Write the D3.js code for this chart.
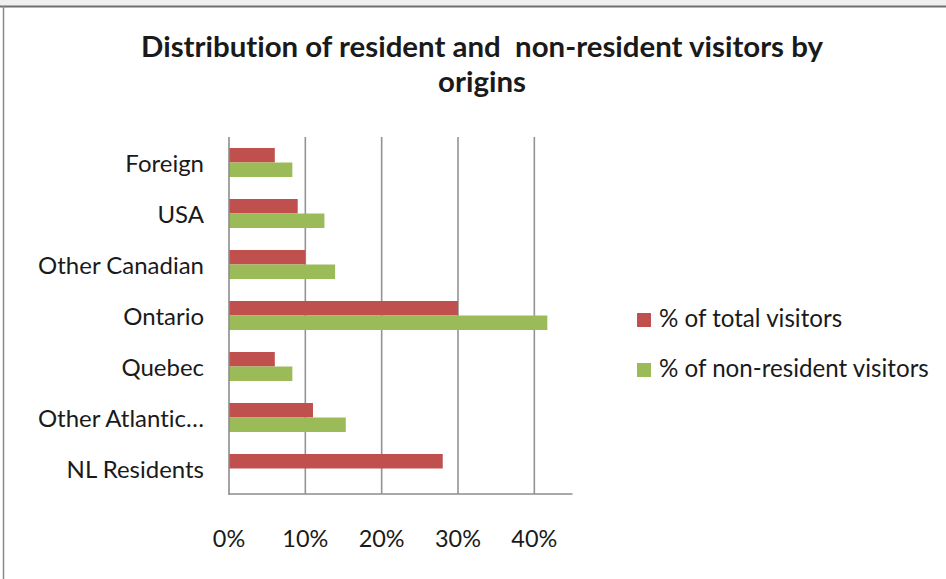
<!DOCTYPE html>
<html>
<head>
<meta charset="utf-8">
<script src="https://cdn.jsdelivr.net/npm/d3@7"></script>
<style>
  html, body { margin: 0; padding: 0; background: #ffffff; }
  svg { display: block; }
  text { font-family: "Lato", "Open Sans", sans-serif; fill: #1a1a1a; font-variant-ligatures: none; font-feature-settings: "liga" 0; }
</style>
</head>
<body>
<svg id="chart" width="946" height="579"></svg>
<script>
// Visitor origins (top to bottom as drawn)
const categories = ["Foreign", "USA", "Other Canadian", "Ontario", "Quebec", "Other Atlantic\u2026", "NL Residents"];
// Share of all visitors, percent
const totalVisitors = [6, 9, 10, 30, 6, 11, 28];
// Share of non-resident visitors, percent (residents excluded)
const nonResidentVisitors = [8.3, 12.5, 13.9, 41.7, 8.3, 15.3, 0];
const seriesNames = ["% of total visitors", "% of non-resident visitors"];
const seriesColors = ["#C0504D", "#9BBB59"];
const tickValues = [0, 10, 20, 30, 40];
const titleLines = ["Distribution of resident and  non-resident visitors by", "origins"];

const svg = d3.select("#chart");
const W = 946, H = 579;

// window frame
svg.append("rect").attr("x", 0).attr("y", 0).attr("width", W).attr("height", 6).attr("fill", "#eef0f0");
svg.append("line").attr("x1", 0).attr("x2", W).attr("y1", 6.5).attr("y2", 6.5)
  .attr("stroke", "#6f6f6f").attr("stroke-width", 2);
svg.append("line").attr("x1", 3.5).attr("x2", 3.5).attr("y1", 6).attr("y2", H)
  .attr("stroke", "#8a8a8a").attr("stroke-width", 1.5);

// scale a text element's font so its rendered width hits a target
function fitSize(sel, target) {
  sel.style("font-size", "100px");
  const w = sel.node().getComputedTextLength();
  return 100 * target / w;
}

const plot = { left: 229, right: 572.5, top: 137, bottom: 494 };

const x = d3.scaleLinear().domain([0, 45]).range([plot.left, plot.right]);
const y = d3.scaleBand().domain(categories).range([plot.top, plot.bottom])
  .paddingInner(0.431).paddingOuter(0.2155);
const ySub = d3.scaleBand().domain([0, 1]).range([0, y.bandwidth()]);

// gridlines
svg.append("g").selectAll("line").data(tickValues.filter(d => d > 0)).join("line")
  .attr("x1", d => x(d)).attr("x2", d => x(d))
  .attr("y1", plot.top).attr("y2", plot.bottom)
  .attr("stroke", "#939393").attr("stroke-width", 1.6);

// bars
const rows = categories.map((c, i) => ({ c, vals: [totalVisitors[i], nonResidentVisitors[i]] }));
const groups = svg.append("g").selectAll("g").data(rows).join("g")
  .attr("transform", d => `translate(0,${y(d.c)})`);
groups.selectAll("rect").data(d => d.vals.map((v, k) => ({ v, k }))).join("rect")
  .attr("x", x(0))
  .attr("y", d => ySub(d.k))
  .attr("width", d => x(d.v) - x(0))
  .attr("height", ySub.bandwidth())
  .attr("fill", d => seriesColors[d.k]);

// axis lines
svg.append("line").attr("x1", plot.left).attr("x2", plot.left).attr("y1", plot.top).attr("y2", plot.bottom + 1)
  .attr("stroke", "#8c8c8c").attr("stroke-width", 1.6);
svg.append("line").attr("x1", plot.left).attr("x2", plot.right).attr("y1", plot.bottom).attr("y2", plot.bottom)
  .attr("stroke", "#8c8c8c").attr("stroke-width", 1.6);

// category labels
const catG = svg.append("g");
const probe = catG.append("text").text("Other Canadian");
const catSize = fitSize(probe, 166);
probe.remove();
catG.selectAll("text").data(categories).join("text")
  .attr("x", 204)
  .attr("y", d => y(d) + y.bandwidth() / 2 + 9)
  .attr("text-anchor", "end")
  .style("font-size", catSize + "px")
  .text(d => d);

// x tick labels
const tickG = svg.append("g");
const tprobe = tickG.append("text").text("10%");
const tickSize = fitSize(tprobe, 46);
tprobe.remove();
tickG.selectAll("text").data(tickValues).join("text")
  .attr("x", d => x(d))
  .attr("y", 547)
  .attr("text-anchor", "middle")
  .style("font-size", tickSize + "px")
  .text(d => d3.format(".0%")(d / 100));

// title
const titleG = svg.append("g");
const ttl = titleG.append("text").text(titleLines[0]).style("font-weight", "bold");
const titleSize = fitSize(ttl, 675);
ttl.remove();
titleG.selectAll("text").data(titleLines).join("text")
  .attr("x", 482)
  .attr("y", (d, i) => 57 + i * 35)
  .attr("text-anchor", "middle")
  .style("font-weight", "bold")
  .style("font-size", titleSize + "px")
  .style("white-space", "pre")
  .attr("xml:space", "preserve")
  .text(d => d);

// legend
const legG = svg.append("g");
const lprobe = legG.append("text").text(seriesNames[1]);
const legSize = fitSize(lprobe, 270);
lprobe.remove();
const leg = legG.selectAll("g").data(seriesNames).join("g")
  .attr("transform", (d, i) => `translate(637,${313 + i * 50})`);
leg.append("rect").attr("width", 14).attr("height", 14).attr("fill", (d, i) => seriesColors[i]);
leg.append("text").attr("x", 22).attr("y", 14)
  .style("font-size", legSize + "px")
  .text(d => d);
</script>
</body>
</html>
